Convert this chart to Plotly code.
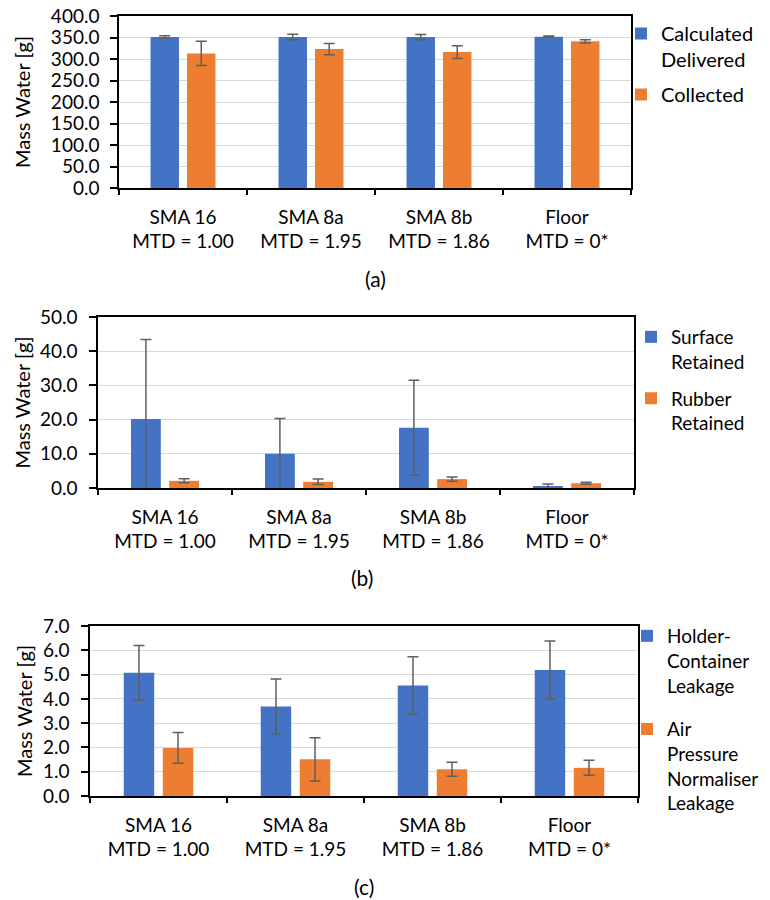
import plotly.graph_objects as go

W, H = 770, 900

names = ["SMA 16", "SMA 8a", "SMA 8b", "Floor"]
mtd = ["MTD = 1.00", "MTD = 1.95", "MTD = 1.86", "MTD = 0*"]
categories = [f"{n}<br>{m}" for n, m in zip(names, mtd)]

# Panel (a)
calc_delivered = [351, 351, 351, 352]
calc_delivered_err = [3, 6.5, 6, 1.5]
collected = [313, 323, 316, 341]
collected_err = [28, 13, 15, 3.5]

# Panel (b)
surface_retained = [20.2, 10.0, 17.6, 0.5]
surface_retained_err = [23.2, 10.3, 13.9, 0.7]
rubber_retained = [2.1, 1.8, 2.6, 1.4]
rubber_retained_err = [0.6, 0.8, 0.6, 0.3]

# Panel (c)
holder_leak = [5.07, 3.69, 4.55, 5.19]
holder_leak_err = [1.13, 1.13, 1.18, 1.19]
air_leak = [1.98, 1.51, 1.10, 1.16]
air_leak_err = [0.63, 0.89, 0.29, 0.31]

BLUE = "#4472C4"
ORANGE = "#ED7D31"
ERR = "#5f5f5f"
FONT = "Lato"
FS = 19

def px_x(p):
    return p / W

def px_y(p):
    return 1 - p / H

panels = [
    dict(x=(119, 631), y=(16, 188), rng=[0, 400], dtick=50,
         series=[("Calculated<br>Delivered", calc_delivered, calc_delivered_err, BLUE),
                 ("Collected", collected, collected_err, ORANGE)],
         leg=(621, 14), legfs=20, leggap=6, cap="(a)", capxy=(375, 278),
         tstand=15, lstand=7),
    dict(x=(98, 634), y=(317, 488), rng=[0, 50], dtick=10,
         series=[("Surface<br>Retained", surface_retained, surface_retained_err, BLUE),
                 ("Rubber<br>Retained", rubber_retained, rubber_retained_err, ORANGE)],
         leg=(631, 318), legfs=19, leggap=9, cap="(b)", capxy=(362, 577),
         tstand=4, lstand=8),
    dict(x=(90, 638), y=(626, 796), rng=[0, 7], dtick=1,
         series=[("Holder-<br>Container<br>Leakage", holder_leak, holder_leak_err, BLUE),
                 ("Air<br>Pressure<br>Normaliser<br>Leakage", air_leak, air_leak_err, ORANGE)],
         leg=(627, 617), legfs=19, leggap=16, cap="(c)", capxy=(364, 886),
         tstand=5, lstand=8),
]

fig = go.Figure()
layout = dict(
    width=W, height=H,
    margin=dict(l=0, r=0, t=0, b=0),
    paper_bgcolor="white", plot_bgcolor="white",
    barmode="group", bargap=0.43, bargroupgap=0.22,
    font=dict(family=FONT, size=FS, color="#000000"),
    annotations=[],
)

for i, p in enumerate(panels):
    k = "" if i == 0 else str(i + 1)
    ko = str(i + 4)
    legname = "legend" if i == 0 else f"legend{i + 1}"
    for j, (nm, vals, errs, col) in enumerate(p["series"]):
        fig.add_trace(go.Bar(
            x=categories, y=vals, name=nm,
            marker=dict(color=col, line=dict(width=0)),
            error_y=dict(type="data", array=errs, visible=True, color=ERR, thickness=1.5, width=5.5),
            xaxis="x" + k, yaxis="y" + k, legend=legname, legendgroup=f"g{i}{j}",
        ))
    layout["xaxis" + k] = dict(
        domain=[px_x(p["x"][0]), px_x(p["x"][1])], anchor="y" + k,
        type="category", tickson="boundaries", ticks="outside", ticklen=5,
        tickcolor="#000", tickwidth=1.5, ticklabelstandoff=11,
        showline=True, linecolor="#000", linewidth=1.5, mirror=True,
        showgrid=False, zeroline=False, automargin=False,
        tickfont=dict(family=FONT, size=FS),
    )
    layout["yaxis" + k] = dict(
        domain=[px_y(p["y"][1]), px_y(p["y"][0])], anchor="x" + k,
        range=p["rng"], dtick=p["dtick"], tickformat=".1f",
        ticks="outside", ticklen=7, tickcolor="#000", tickwidth=1.5,
        showline=True, linecolor="#000", linewidth=1.5, mirror=True,
        showgrid=True, gridcolor="#d9d9d9", gridwidth=1, zeroline=False,
        automargin=False, ticklabelstandoff=p["lstand"],
        title=dict(text="Mass Water [g]", font=dict(family=FONT, size=20), standoff=p["tstand"]),
        tickfont=dict(family=FONT, size=FS),
    )
    # companion axis drawing the inner half of the cross ticks
    layout["yaxis" + ko] = dict(
        overlaying="y" + k, anchor="x" + k, side="left",
        range=p["rng"], dtick=p["dtick"], ticks="inside", ticklen=7,
        tickcolor="#000", tickwidth=1.5, showticklabels=False,
        showline=False, showgrid=False, zeroline=False, automargin=False,
    )
    layout[legname] = dict(
        x=px_x(p["leg"][0]), y=px_y(p["leg"][1]), xanchor="left", yanchor="top",
        valign="top", tracegroupgap=p["leggap"], bgcolor="rgba(0,0,0,0)",
        font=dict(family=FONT, size=p["legfs"]),
    )
    layout["annotations"].append(dict(
        text=p["cap"], x=px_x(p["capxy"][0]), y=px_y(p["capxy"][1]),
        xref="paper", yref="paper", showarrow=False,
        xanchor="center", yanchor="middle", font=dict(family=FONT, size=21),
    ))

fig.update_layout(**layout)
fig.write_html("out.html")
